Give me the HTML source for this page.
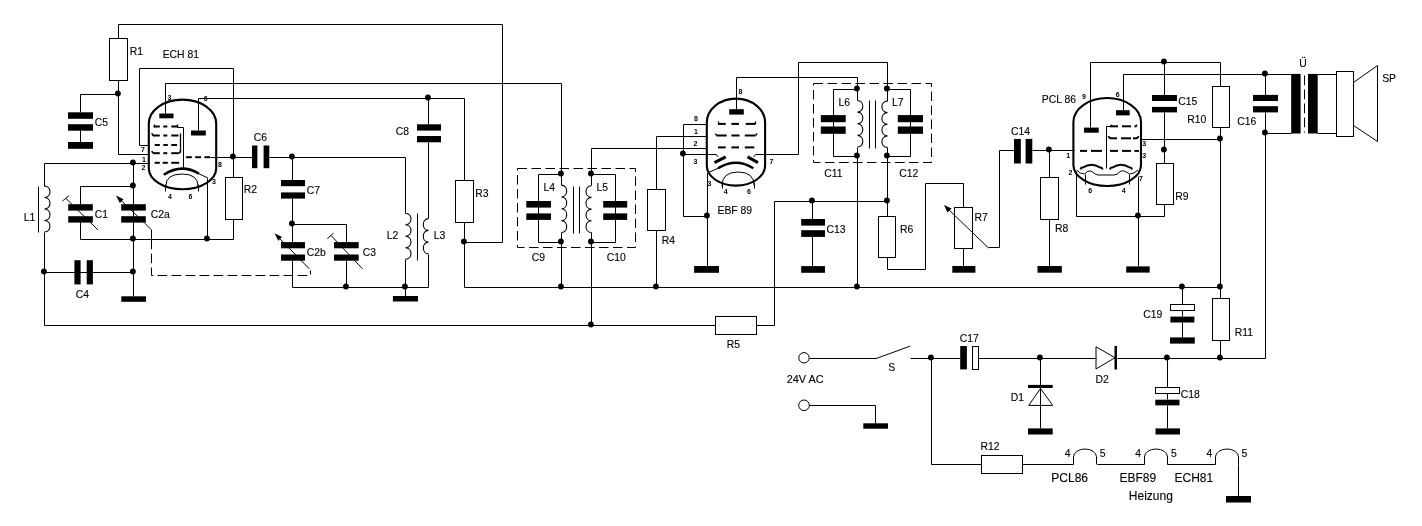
<!DOCTYPE html>
<html><head><meta charset="utf-8"><style>
html,body{margin:0;padding:0;background:#fff;}
svg{display:block;}
svg{will-change:transform;}
path,line,polyline{fill:none;stroke:#000;stroke-width:1;}
.k{fill:#000;stroke:none;}
.o{fill:none;stroke:#000;stroke-width:1;}
.t{font-family:"Liberation Sans",sans-serif;fill:#000;stroke:#000;stroke-width:0.12px;}
.t2{font-family:"Liberation Sans",sans-serif;fill:#000;stroke:#000;stroke-width:0.12px;}
.p{font-family:"Liberation Sans",sans-serif;fill:#000;font-weight:bold;}
</style></head><body>
<svg width="1422" height="526" viewBox="0 0 1422 526">
<path d="M118.5 24.5 L502.5 24.5 L502.5 242.5 L464.5 242.5"/>
<rect x="109.5" y="38.5" width="18" height="42" class="o"/>
<text x="129.7" y="55" class="t" font-size="10.4">R1</text>
<path d="M118.5 24.5 L118.5 38.5"/>
<path d="M118.5 80.5 L118.5 154.5 L149.5 154.5"/>
<circle cx="117.9" cy="93.5" r="2.9" class="k"/>
<path d="M118.5 94.5 L80.5 94.5 L80.5 112.5"/>
<rect x="68" y="112.3" width="25" height="6.5" class="k"/>
<rect x="68" y="124.2" width="25" height="6.5" class="k"/>
<path d="M80.5 130.5 L80.5 142.5"/>
<rect x="68" y="142" width="25" height="6.8" class="k"/>
<text x="94.7" y="126" class="t" font-size="10.4">C5</text>
<text x="162.7" y="58.1" class="t" font-size="10.4">ECH 81</text>
<path d="M149.5 145.5 L139.5 145.5 L139.5 68.5 L233.5 68.5 L233.5 177.5"/>
<path d="M165.5 113.5 L165.5 83.5 L561.5 83.5 L561.5 174.5"/>
<path d="M198.5 130.5 L198.5 98.5 L464.5 98.5 L464.5 180.5"/>
<circle cx="427.9" cy="97.5" r="2.9" class="k"/>
<path d="M428.5 98.5 L428.5 124.5"/>
<rect x="417" y="124.3" width="24" height="6.3" class="k"/>
<rect x="417" y="136" width="24" height="6.3" class="k"/>
<path d="M428.5 142.5 L428.5 218.5"/>
<text x="395.7" y="134.8" class="t" font-size="10.4">C8</text>
<path d="M148.8 123.6 L148.8 168.2 A33.7 21 0 0 0 216.2 168.2 L216.2 123.6 A33.7 24 0 0 0 148.8 123.6 Z" style="stroke-width:2.1"/>
<rect x="159.3" y="113.5" width="14.2" height="4.8" class="k"/>
<rect x="191" y="130.5" width="14.8" height="5" class="k"/>
<path d="M153.6 126.5 L159.8 126.5" style="stroke-width:2"/>
<path d="M163.3 126.5 L167.3 126.5" style="stroke-width:2"/>
<path d="M171.3 126.5 L177.5 126.5" style="stroke-width:2"/>
<path d="M154.5 124.5 L154.5 127.5" style="stroke-width:1.3"/>
<path d="M177.5 124.5 L177.5 127.5" style="stroke-width:1.3"/>
<path d="M177.5 127.5 L183.5 127.5 L183.5 168.5"/>
<path d="M153 135.5 L159.8 135.5" style="stroke-width:2"/>
<path d="M163.3 135.5 L167.3 135.5" style="stroke-width:2"/>
<path d="M171.3 135.5 L178.5 135.5" style="stroke-width:2"/>
<path d="M151.8 133.3 Q152.5 135.5 154 135.5" style="stroke-width:1.6"/>
<path d="M180.5 133.5 L180.5 151.5" style="stroke-width:1.3"/>
<path d="M154.7 145 L159.8 145" style="stroke-width:2"/>
<path d="M163.3 145 L167.8 145" style="stroke-width:2"/>
<path d="M171.3 145 L177 145" style="stroke-width:2"/>
<path d="M153 153.2 L159.8 153.2" style="stroke-width:2"/>
<path d="M163.3 153.2 L167.3 153.2" style="stroke-width:2"/>
<path d="M171.3 153.2 L178.5 153.2" style="stroke-width:2"/>
<path d="M151.8 151 Q152.5 153.2 154 153.2" style="stroke-width:1.6"/>
<path d="M178 153.2 Q180.5 153.2 180.5 150.5" style="stroke-width:1.6"/>
<path d="M154.7 162.8 L159.8 162.8" style="stroke-width:2"/>
<path d="M162.7 162.8 L167.8 162.8" style="stroke-width:2"/>
<path d="M171.3 162.8 L179.2 162.8" style="stroke-width:2"/>
<path d="M186.1 157.2 L191.8 157.2" style="stroke-width:2"/>
<path d="M195.2 157.2 L201 157.2" style="stroke-width:2"/>
<path d="M204.4 157.2 L210.1 157.2" style="stroke-width:2"/>
<path d="M210.5 157.5 L252.5 157.5"/>
<path d="M163.8 174.7 Q182 163 199 173.8" style="stroke-width:2.5"/>
<path d="M199 173.8 L208 178"/>
<path d="M165.8 186 Q166 174 182 174 Q198 174 198 186"/>
<path d="M165.5 184.5 L165.5 191.5"/>
<path d="M198.5 184.5 L198.5 191.5"/>
<text x="170" y="199.1" class="p" font-size="7" text-anchor="middle">4</text>
<text x="190.5" y="199.1" class="p" font-size="7" text-anchor="middle">6</text>
<text x="169.5" y="99.6" class="p" font-size="7" text-anchor="middle">3</text>
<text x="205.8" y="101.2" class="p" font-size="7" text-anchor="middle">6</text>
<text x="143" y="152.1" class="p" font-size="7" text-anchor="middle">7</text>
<text x="144" y="161.6" class="p" font-size="7" text-anchor="middle">1</text>
<text x="143.5" y="169.6" class="p" font-size="7" text-anchor="middle">2</text>
<text x="220" y="167.1" class="p" font-size="7" text-anchor="middle">8</text>
<text x="214" y="184.1" class="p" font-size="7" text-anchor="middle">3</text>
<path d="M44.5 163.5 L149.5 163.5"/>
<circle cx="132.9" cy="162.5" r="2.9" class="k"/>
<path d="M44.5 163.5 L44.5 186.5"/>
<path d="M44.5 186 C51.81 186.23 51.81 197.27 44.5 197.5 C51.81 197.73 51.81 208.77 44.5 209 C51.81 209.23 51.81 220.27 44.5 220.5 C51.81 220.73 51.81 231.77 44.5 232" style="stroke-width:1.1"/>
<path d="M44.5 232.5 L44.5 325.5 L715.5 325.5"/>
<path d="M38.5 186.5 L38.5 232.5"/>
<text x="23.7" y="220.5" class="t" font-size="10.4">L1</text>
<circle cx="43.9" cy="271.5" r="2.9" class="k"/>
<path d="M133.5 163.5 L133.5 296.5"/>
<circle cx="132.9" cy="185.5" r="2.9" class="k"/>
<circle cx="132.9" cy="238.5" r="2.9" class="k"/>
<circle cx="132.9" cy="271.5" r="2.9" class="k"/>
<rect x="121.3" y="296.3" width="24.7" height="5.5" class="k"/>
<path d="M133.5 186.5 L80.5 186.5 L80.5 204.5"/>
<rect x="68.2" y="204.2" width="24.6" height="6.4" class="k"/>
<rect x="68.2" y="216.2" width="24.6" height="6.4" class="k"/>
<path d="M80.5 222.5 L80.5 239.5 L233.5 239.5 L233.5 219.5"/>
<path d="M66 198.5 L98 230"/>
<path d="M62.6 201 L68.9 195.7"/>
<text x="94.7" y="217.7" class="t" font-size="10.4">C1</text>
<rect x="121.2" y="204.2" width="24.6" height="6.4" class="k"/>
<rect x="121.2" y="216.2" width="24.6" height="6.4" class="k"/>
<path d="M118.5 198 L144.4 222.8 L151.5 229.9 L151.5 239.5"/>
<path d="M116 195.5 L123.5 199.2 L119.8 202.9 Z" class="k"/>
<text x="150.8" y="217.7" class="t" font-size="10.4">C2a</text>
<path d="M151.5 239.5 L151.5 275.5 L310.5 275.5 L310.5 270.5" style="stroke-dasharray:9.7 4.3"/>
<circle cx="206.9" cy="238.5" r="2.9" class="k"/>
<path d="M207.5 239.5 L207.5 178.5"/>
<path d="M44.5 272.5 L133.5 272.5"/>
<rect x="74.4" y="260.2" width="6.2" height="24.2" class="k"/>
<rect x="86.7" y="260.2" width="6.2" height="24.2" class="k"/>
<text x="75.7" y="297.8" class="t" font-size="10.4">C4</text>
<rect x="225.5" y="177.5" width="17" height="42" class="o"/>
<circle cx="232.9" cy="156.5" r="2.9" class="k"/>
<text x="243.7" y="193.3" class="t" font-size="10.4">R2</text>
<rect x="252" y="145.5" width="5.4" height="22.7" class="k"/>
<rect x="263.6" y="145.5" width="5.7" height="22.7" class="k"/>
<path d="M269.5 157.5 L405.5 157.5 L405.5 213.5"/>
<text x="253.7" y="141.1" class="t" font-size="10.4">C6</text>
<circle cx="291.9" cy="156.5" r="2.9" class="k"/>
<path d="M292.5 157.5 L292.5 180.5"/>
<rect x="281" y="180" width="24" height="6.2" class="k"/>
<rect x="281" y="192.4" width="24" height="6.2" class="k"/>
<path d="M292.5 198.5 L292.5 242.5"/>
<text x="306.7" y="194.2" class="t" font-size="10.4">C7</text>
<circle cx="291.9" cy="223.5" r="2.9" class="k"/>
<path d="M292.5 224.5 L346.5 224.5 L346.5 242.5"/>
<rect x="281" y="242.1" width="24" height="6.2" class="k"/>
<rect x="281" y="254.5" width="24" height="6.2" class="k"/>
<path d="M277 235.8 L309.3 268.8"/>
<path d="M274.5 233.3 L282 237 L278.3 240.7 Z" class="k"/>
<text x="306.7" y="255.8" class="t" font-size="10.4">C2b</text>
<rect x="334" y="242.1" width="24.7" height="6.2" class="k"/>
<rect x="334" y="254.5" width="24.7" height="6.2" class="k"/>
<path d="M331 235.5 L362.5 268.8"/>
<path d="M327.3 238.5 L333.6 233.2"/>
<text x="362.7" y="255.8" class="t" font-size="10.4">C3</text>
<path d="M292.5 260.5 L292.5 287.5 L428.5 287.5 L428.5 254.5"/>
<path d="M346.5 260.5 L346.5 287.5"/>
<circle cx="345.9" cy="286.5" r="2.9" class="k"/>
<circle cx="404.9" cy="286.5" r="2.9" class="k"/>
<path d="M405.5 259.5 L405.5 296.5"/>
<rect x="392.9" y="296" width="25.1" height="5.5" class="k"/>
<path d="M405.5 213.3 C412.81 213.53 412.81 224.55 405.5 224.78 C412.81 225 412.81 236.02 405.5 236.25 C412.81 236.48 412.81 247.5 405.5 247.72 C412.81 247.95 412.81 258.97 405.5 259.2" style="stroke-width:1.1"/>
<path d="M428.5 218.6 C421.58 218.84 421.58 230.13 428.5 230.37 C421.58 230.6 421.58 241.9 428.5 242.13 C421.58 242.37 421.58 253.66 428.5 253.9" style="stroke-width:1.1"/>
<path d="M417.5 213.5 L417.5 260.5"/>
<text x="386.7" y="239.1" class="t" font-size="10.4">L2</text>
<text x="433.7" y="239.1" class="t" font-size="10.4">L3</text>
<rect x="455.5" y="180.5" width="18" height="42" class="o"/>
<path d="M464.5 222.5 L464.5 287.5 L1220.5 287.5"/>
<circle cx="463.9" cy="241.5" r="2.9" class="k"/>
<text x="475.2" y="196.8" class="t" font-size="10.4">R3</text>
<rect x="517.5" y="168.5" width="118" height="79" class="o" style="stroke-dasharray:9.5 4.5"/>
<path d="M561.5 174.5 L538.5 174.5 L538.5 242.5 L561.5 242.5"/>
<rect x="526.3" y="201" width="24.7" height="6.6" class="k"/>
<rect x="526.3" y="213.4" width="24.7" height="6.5" class="k"/>
<path d="M591.5 174.5 L615.5 174.5 L615.5 242.5 L591.5 242.5"/>
<rect x="603.2" y="201" width="24" height="6.6" class="k"/>
<rect x="603.2" y="213.4" width="24" height="6.5" class="k"/>
<path d="M561.5 174.5 L561.5 185.5"/>
<path d="M561.5 185.1 C568.42 185.34 568.42 196.71 561.5 196.95 C568.42 197.19 568.42 208.56 561.5 208.8 C568.42 209.04 568.42 220.41 561.5 220.65 C568.42 220.89 568.42 232.26 561.5 232.5" style="stroke-width:1.1"/>
<path d="M561.5 232.5 L561.5 287.5"/>
<path d="M591.5 148.5 L591.5 185.5"/>
<path d="M591.5 185.7 C584.18 185.93 584.18 197.17 591.5 197.4 C584.18 197.63 584.18 208.87 591.5 209.1 C584.18 209.33 584.18 220.57 591.5 220.8 C584.18 221.03 584.18 232.27 591.5 232.5" style="stroke-width:1.1"/>
<path d="M591.5 232.5 L591.5 325.5"/>
<path d="M573.5 186.5 L573.5 233.5"/>
<path d="M579.5 186.5 L579.5 233.5"/>
<circle cx="560.9" cy="173.5" r="2.9" class="k"/>
<circle cx="590.9" cy="173.5" r="2.9" class="k"/>
<circle cx="560.9" cy="241.5" r="2.9" class="k"/>
<circle cx="590.9" cy="241.5" r="2.9" class="k"/>
<circle cx="560.9" cy="286.5" r="2.9" class="k"/>
<circle cx="590.9" cy="324.5" r="2.9" class="k"/>
<text x="543.4" y="191.1" class="t" font-size="10.4">L4</text>
<text x="596.4" y="191.1" class="t" font-size="10.4">L5</text>
<text x="531.7" y="261.4" class="t" font-size="10.4">C9</text>
<text x="606.7" y="261.4" class="t" font-size="10.4">C10</text>
<path d="M591.5 148.5 L707.5 148.5"/>
<path d="M656.5 136.5 L707.5 136.5"/>
<path d="M656.5 136.5 L656.5 189.5"/>
<rect x="647.5" y="189.5" width="18" height="41" class="o"/>
<path d="M656.5 230.5 L656.5 287.5"/>
<circle cx="655.9" cy="286.5" r="2.9" class="k"/>
<text x="661.7" y="244.2" class="t" font-size="10.4">R4</text>
<path d="M707.5 124.5 L683.5 124.5 L683.5 216.5 L707.5 216.5"/>
<circle cx="682.9" cy="153.5" r="2.9" class="k"/>
<path d="M683.5 154.5 L716.5 154.5"/>
<path d="M716 154.5 L718.3 157"/>
<path d="M707.5 173.5 L707.5 266.5"/>
<circle cx="706.9" cy="215.5" r="2.9" class="k"/>
<rect x="694.1" y="266" width="24.9" height="6.8" class="k"/>
<text x="717.5" y="214.2" class="t" font-size="10.4">EBF 89</text>
<path d="M706.8 122.6 L706.8 165.6 A29.15 20 0 0 0 765.1 165.6 L765.1 122.6 A29.15 24 0 0 0 706.8 122.6 Z" style="stroke-width:2.1"/>
<rect x="729.2" y="109.2" width="14.6" height="5.4" class="k"/>
<path d="M736.5 109.5 L736.5 77.5 L857.5 77.5 L857.5 87.5"/>
<path d="M718 123.9 L725.7 123.9" style="stroke-width:2"/>
<path d="M731.4 123.9 L739 123.9" style="stroke-width:2"/>
<path d="M745.7 123.9 L755.2 123.9" style="stroke-width:2"/>
<path d="M718.5 121.5 L718.5 124.5" style="stroke-width:1.3"/>
<path d="M755.5 121.5 L755.5 124.5" style="stroke-width:1.3"/>
<path d="M716.5 135.5 L726.7 135.5" style="stroke-width:2"/>
<path d="M731.4 135.5 L739.5 135.5" style="stroke-width:2"/>
<path d="M744.8 135.5 L755.5 135.5" style="stroke-width:2"/>
<path d="M715.2 133.8 L716.8 135.5" style="stroke-width:1.3"/>
<path d="M755.5 135.5 L757.2 133.5" style="stroke-width:1.3"/>
<path d="M718 147.4 L725.7 147.4" style="stroke-width:2"/>
<path d="M731.4 147.4 L739 147.4" style="stroke-width:2"/>
<path d="M744.8 147.4 L754.3 147.4" style="stroke-width:2"/>
<path d="M714.5 162.6 L725.7 156.9" style="stroke-width:3"/>
<path d="M747.6 156.9 L758 162.6" style="stroke-width:3"/>
<path d="M718 168.3 Q736 157 753.3 168.3" style="stroke-width:2.5"/>
<path d="M718 168.3 L707.5 173"/>
<path d="M722 186 Q722 172 738 172 Q754.3 172 754.3 186"/>
<path d="M722.5 182.5 L722.5 188.5"/>
<path d="M754.5 182.5 L754.5 188.5"/>
<path d="M755.5 154.5 L753.8 156.9"/>
<path d="M755.5 154.5 L798.5 154.5 L798.5 62.5 L887.5 62.5 L887.5 87.5"/>
<text x="740.5" y="93.6" class="p" font-size="7" text-anchor="middle">8</text>
<text x="696" y="120.6" class="p" font-size="7" text-anchor="middle">8</text>
<text x="696" y="133.6" class="p" font-size="7" text-anchor="middle">1</text>
<text x="695.5" y="145.9" class="p" font-size="7" text-anchor="middle">2</text>
<text x="695.5" y="164.1" class="p" font-size="7" text-anchor="middle">3</text>
<text x="771.5" y="164.1" class="p" font-size="7" text-anchor="middle">7</text>
<text x="709.5" y="186.2" class="p" font-size="7" text-anchor="middle">3</text>
<text x="725.6" y="193.6" class="p" font-size="7" text-anchor="middle">4</text>
<text x="749" y="193.6" class="p" font-size="7" text-anchor="middle">6</text>
<rect x="813.5" y="83.5" width="118" height="79" class="o" style="stroke-dasharray:9.5 4.5"/>
<path d="M857.5 89.5 L833.5 89.5 L833.5 156.5 L857.5 156.5"/>
<rect x="820.8" y="115.1" width="24.9" height="7.1" class="k"/>
<rect x="820.8" y="126.5" width="24.9" height="7.3" class="k"/>
<path d="M887.5 89.5 L910.5 89.5 L910.5 156.5 L887.5 156.5"/>
<rect x="897.8" y="115.1" width="25.2" height="7.1" class="k"/>
<rect x="897.8" y="126.5" width="25.2" height="7.3" class="k"/>
<path d="M857.5 100.5 C864.55 100.73 864.55 111.89 857.5 112.12 C864.55 112.36 864.55 123.52 857.5 123.75 C864.55 123.98 864.55 135.14 857.5 135.38 C864.55 135.61 864.55 146.77 857.5 147" style="stroke-width:1.1"/>
<path d="M857.5 89.5 L857.5 100.5"/>
<path d="M857.5 147.5 L857.5 287.5"/>
<path d="M887.5 101 C880.05 101.23 880.05 112.39 887.5 112.62 C880.05 112.86 880.05 124.02 887.5 124.25 C880.05 124.48 880.05 135.64 887.5 135.88 C880.05 136.11 880.05 147.27 887.5 147.5" style="stroke-width:1.1"/>
<path d="M887.5 89.5 L887.5 101.5"/>
<path d="M887.5 147.5 L887.5 216.5"/>
<path d="M869.5 100.5 L869.5 148.5"/>
<path d="M875.5 100.5 L875.5 148.5"/>
<circle cx="856.9" cy="88.5" r="2.9" class="k"/>
<circle cx="886.9" cy="88.5" r="2.9" class="k"/>
<circle cx="856.9" cy="155.5" r="2.9" class="k"/>
<circle cx="886.9" cy="155.5" r="2.9" class="k"/>
<circle cx="856.9" cy="286.5" r="2.9" class="k"/>
<circle cx="811.9" cy="200.5" r="2.9" class="k"/>
<circle cx="886.9" cy="200.5" r="2.9" class="k"/>
<text x="838.5" y="106.1" class="t" font-size="10.4">L6</text>
<text x="892" y="106.1" class="t" font-size="10.4">L7</text>
<text x="824.2" y="176.9" class="t" font-size="10.4">C11</text>
<text x="899.3" y="176.9" class="t" font-size="10.4">C12</text>
<rect x="715.5" y="316.5" width="41" height="18" class="o"/>
<path d="M756.5 325.5 L774.5 325.5 L774.5 201.5 L887.5 201.5"/>
<text x="726.8" y="347.7" class="t" font-size="10.4">R5</text>
<path d="M812.5 201.5 L812.5 219.5"/>
<rect x="801.2" y="219" width="23.8" height="6.6" class="k"/>
<rect x="801.2" y="230.2" width="23.8" height="6.7" class="k"/>
<path d="M812.5 236.5 L812.5 266.5"/>
<rect x="801.2" y="266.1" width="23.8" height="6.7" class="k"/>
<text x="826.5" y="232.5" class="t" font-size="10.4">C13</text>
<rect x="878.5" y="216.5" width="17" height="41" class="o"/>
<path d="M887.5 257.5 L887.5 269.5 L925.5 269.5 L925.5 183.5 L963.5 183.5 L963.5 207.5"/>
<text x="900" y="232.5" class="t" font-size="10.4">R6</text>
<rect x="954.5" y="207.5" width="18" height="41" class="o"/>
<path d="M963.5 248.5 L963.5 266.5"/>
<rect x="952.3" y="266" width="23.1" height="6.7" class="k"/>
<path d="M947 208 L988.5 248"/>
<path d="M988.5 247.5 L999.5 247.5 L999.5 150.5 L1014.5 150.5"/>
<path d="M944 205 L951.5 208.5 L947.5 212.5 Z" class="k"/>
<text x="974.5" y="221.2" class="t" font-size="10.4">R7</text>
<rect x="1014" y="138.9" width="6.8" height="24.6" class="k"/>
<rect x="1025.6" y="138.9" width="6.7" height="24.6" class="k"/>
<text x="1011" y="135.4" class="t" font-size="10.4">C14</text>
<path d="M1032.5 150.5 L1074.5 150.5"/>
<circle cx="1048.9" cy="149.5" r="2.9" class="k"/>
<path d="M1049.5 150.5 L1049.5 177.5"/>
<rect x="1040.5" y="177.5" width="18" height="42" class="o"/>
<path d="M1049.5 219.5 L1049.5 266.5"/>
<rect x="1037.5" y="266" width="24.3" height="6.7" class="k"/>
<text x="1055" y="232.4" class="t" font-size="10.4">R8</text>
<path d="M1073.4 122 L1073.4 165 A33.8 21 0 0 0 1141 165 L1141 122 A33.8 24 0 0 0 1073.4 122 Z" style="stroke-width:2.1"/>
<rect x="1084" y="127.6" width="14.7" height="5.1" class="k"/>
<rect x="1116" y="110.2" width="13.7" height="5.2" class="k"/>
<path d="M1090.5 127.5 L1090.5 62.5 L1220.5 62.5 L1220.5 86.5"/>
<path d="M1123.5 110.5 L1123.5 74.5 L1291.5 74.5"/>
<circle cx="1163.9" cy="61.5" r="2.9" class="k"/>
<path d="M1164.5 62.5 L1164.5 95.5"/>
<rect x="1152" y="95" width="25" height="6" class="k"/>
<rect x="1152" y="106.9" width="25" height="5.5" class="k"/>
<path d="M1164.5 112.5 L1164.5 163.5"/>
<circle cx="1163.9" cy="149.5" r="2.9" class="k"/>
<path d="M1080 150.9 L1087 150.9" style="stroke-width:2"/>
<path d="M1091 150.9 L1102 150.9" style="stroke-width:2"/>
<path d="M1110 150.9 L1118 150.9" style="stroke-width:2"/>
<path d="M1122 150.9 L1131 150.9" style="stroke-width:2"/>
<path d="M1134.5 150.9 L1139 150.9" style="stroke-width:2"/>
<path d="M1110 126.3 L1118 126.3" style="stroke-width:2"/>
<path d="M1122 126.3 L1131 126.3" style="stroke-width:2"/>
<path d="M1134.5 126.3 L1136.5 126.3" style="stroke-width:2"/>
<path d="M1111.5 124.5 L1111.5 126.5" style="stroke-width:1.3"/>
<path d="M1136.5 124.5 L1136.5 126.5" style="stroke-width:1.3"/>
<path d="M1110 138.3 L1117 138.3" style="stroke-width:2"/>
<path d="M1121 138.3 L1131 138.3" style="stroke-width:2"/>
<path d="M1133 138.3 L1137 138.3" style="stroke-width:2"/>
<path d="M1108.5 136 Q1109 138.3 1111 138.3" style="stroke-width:1.6"/>
<path d="M1136 138.3 Q1138 138.3 1138.5 136" style="stroke-width:1.6"/>
<path d="M1141.5 139.5 L1220.5 139.5"/>
<circle cx="1219.9" cy="138.5" r="2.9" class="k"/>
<path d="M1106.5 126.5 L1106.5 168.5"/>
<path d="M1106.5 126.5 L1110.5 126.5"/>
<path d="M1080.5 169.5 Q1081 167 1083 167.5 Q1091.5 162 1100 167.5 Q1102 167 1102.5 169.5" style="stroke-width:2"/>
<path d="M1110 169.5 Q1110.5 167 1112.5 167.5 Q1121 162 1129.5 167.5 Q1131.5 167 1132 169.5" style="stroke-width:2"/>
<path d="M1076.5 170 Q1080 174 1084.5 174 Q1088 170 1091 171 Q1096 175 1098 175 L1114 175 Q1117 175 1121 171 Q1124 170 1129.5 174 Q1134 174 1138 170"/>
<path d="M1085.5 174.5 L1085.5 184.5"/>
<path d="M1129.5 174.5 L1129.5 184.5"/>
<rect x="1156.5" y="163.5" width="17" height="41" class="o"/>
<path d="M1164.5 204.5 L1164.5 216.5 L1076.5 216.5 L1076.5 171.5"/>
<path d="M1138.5 176.5 L1138.5 266.5"/>
<circle cx="1137.9" cy="215.5" r="2.9" class="k"/>
<rect x="1126.2" y="266.4" width="23.5" height="6.2" class="k"/>
<text x="1175.2" y="199.8" class="t" font-size="10.4">R9</text>
<rect x="1212.5" y="86.5" width="17" height="41" class="o"/>
<path d="M1220.5 127.5 L1220.5 298.5"/>
<text x="1187.2" y="123" class="t" font-size="10.4">R10</text>
<text x="1178.2" y="105.4" class="t" font-size="10.4">C15</text>
<text x="1041.8" y="102.6" class="t" font-size="10.4">PCL 86</text>
<text x="1084" y="98.8" class="p" font-size="7" text-anchor="middle">9</text>
<text x="1117.6" y="96.7" class="p" font-size="7" text-anchor="middle">6</text>
<text x="1068.2" y="158.4" class="p" font-size="7" text-anchor="middle">1</text>
<text x="1070.4" y="175.4" class="p" font-size="7" text-anchor="middle">2</text>
<text x="1090.3" y="193.4" class="p" font-size="7" text-anchor="middle">6</text>
<text x="1123.6" y="193.4" class="p" font-size="7" text-anchor="middle">4</text>
<text x="1141" y="181.1" class="p" font-size="7" text-anchor="middle">7</text>
<text x="1144.3" y="145.9" class="p" font-size="7" text-anchor="middle">3</text>
<text x="1144.3" y="158.4" class="p" font-size="7" text-anchor="middle">3</text>
<circle cx="1264.9" cy="73.5" r="2.9" class="k"/>
<path d="M1265.5 74.5 L1265.5 95.5"/>
<rect x="1253" y="94.9" width="25" height="6.1" class="k"/>
<rect x="1253" y="106.2" width="25" height="6.2" class="k"/>
<path d="M1265.5 112.5 L1265.5 358.5 L1220.5 358.5"/>
<circle cx="1264.9" cy="132.5" r="2.9" class="k"/>
<path d="M1265.5 133.5 L1291.5 133.5"/>
<text x="1237.2" y="125.4" class="t" font-size="10.4">C16</text>
<rect x="1291.2" y="73.9" width="9.4" height="59.6" class="k"/>
<rect x="1308" y="73.9" width="9.7" height="59.6" class="k"/>
<path d="M1304.5 75.5 L1304.5 132.5" style="stroke-dasharray:9.7 4.3"/>
<path d="M1317.5 74.5 L1336.5 74.5"/>
<path d="M1317.5 133.5 L1336.5 133.5"/>
<rect x="1336.5" y="71.5" width="17" height="65" class="o"/>
<path d="M1353.5 82.5 L1377.5 65.5 L1377.5 141.5 L1353.5 125.5"/>
<text x="1382.2" y="82.1" class="t" font-size="10.4">SP</text>
<text x="1299.2" y="66.6" class="t" font-size="10.4">U</text>
<rect x="1302" y="56.8" width="1.2" height="1.2" class="k"/>
<rect x="1304" y="56.8" width="1.2" height="1.2" class="k"/>
<circle cx="1181.9" cy="286.5" r="2.9" class="k"/>
<circle cx="1219.9" cy="286.5" r="2.9" class="k"/>
<rect x="1212.5" y="298.5" width="17" height="42" class="o"/>
<path d="M1220.5 340.5 L1220.5 358.5"/>
<circle cx="1219.9" cy="357.5" r="2.9" class="k"/>
<text x="1234.7" y="335.7" class="t" font-size="10.4">R11</text>
<path d="M1182.5 287.5 L1182.5 304.5"/>
<rect x="1170.5" y="304.5" width="24" height="6" class="o"/>
<rect x="1170.4" y="316.6" width="24" height="5.9" class="k"/>
<path d="M1182.5 310.5 L1182.5 316.5"/>
<path d="M1182.5 322.5 L1182.5 337.5"/>
<rect x="1170" y="337.4" width="24.8" height="6.2" class="k"/>
<text x="1143.2" y="317.9" class="t" font-size="10.4">C19</text>
<circle cx="804" cy="357.8" r="5.2" class="o"/>
<circle cx="804" cy="405.3" r="5.3" class="o"/>
<path d="M809.5 358.5 L876.5 358.5"/>
<path d="M876.2 358.5 L910 346.2"/>
<path d="M910.5 358.5 L960.5 358.5"/>
<circle cx="930.9" cy="357.5" r="2.9" class="k"/>
<text x="888.2" y="371.3" class="t" font-size="10.4">S</text>
<text x="786.7" y="383.1" class="t" font-size="10.9">24V AC</text>
<path d="M809.5 405.5 L875.5 405.5 L875.5 423.5"/>
<rect x="863.3" y="423.3" width="24.7" height="5.4" class="k"/>
<rect x="960.2" y="346" width="6.7" height="23.4" class="k"/>
<rect x="972.5" y="346.5" width="6" height="23" class="o"/>
<text x="959.7" y="341.6" class="t" font-size="10.4">C17</text>
<path d="M978.5 358.5 L1096.5 358.5"/>
<circle cx="1039.9" cy="357.5" r="2.9" class="k"/>
<path d="M1040.5 358.5 L1040.5 428.5"/>
<rect x="1028" y="384.9" width="24.7" height="3.1" class="k"/>
<path d="M1040.5 388.5 L1028.7 405.4 L1052.7 405.4 Z" class="o"/>
<rect x="1028" y="428.4" width="24.7" height="6.1" class="k"/>
<text x="1010.7" y="401" class="t" font-size="10.4">D1</text>
<path d="M1096 346.8 L1096 369 L1115 357.7 Z" class="o"/>
<rect x="1114.5" y="346" width="2.5" height="23.5" class="k"/>
<path d="M1117.5 358.5 L1220.5 358.5"/>
<circle cx="1166.9" cy="357.5" r="2.9" class="k"/>
<text x="1095.4" y="383.2" class="t" font-size="10.4">D2</text>
<path d="M1167.5 358.5 L1167.5 387.5"/>
<rect x="1155.5" y="387.5" width="24" height="6" class="o"/>
<rect x="1155.3" y="399.7" width="24.2" height="5.7" class="k"/>
<path d="M1167.5 393.5 L1167.5 399.5"/>
<path d="M1167.5 405.5 L1167.5 428.5"/>
<rect x="1155.5" y="428.4" width="24.5" height="6.1" class="k"/>
<text x="1180.7" y="398.1" class="t" font-size="10.4">C18</text>
<path d="M931.5 358.5 L931.5 464.5 L981.5 464.5"/>
<rect x="981.5" y="455.5" width="41" height="18" class="o"/>
<text x="980.5" y="450.1" class="t" font-size="10.4">R12</text>
<path d="M1022.5 464.5 L1073.5 464.5"/>
<path d="M1073.5 464.5 L1073.5 457 A11.5 8 0 0 1 1096.5 457 L1096.5 464.5"/>
<path d="M1097.5 464.5 L1144.5 464.5"/>
<path d="M1144.5 464.5 L1144.5 457 A11.5 8 0 0 1 1167.5 457 L1167.5 464.5"/>
<path d="M1167.5 464.5 L1215.5 464.5"/>
<path d="M1215.5 464.5 L1215.5 457 A11.5 8 0 0 1 1238.5 457 L1238.5 464.5"/>
<path d="M1238.5 464.5 L1238.5 496.5"/>
<rect x="1226" y="496" width="25" height="6.5" class="k"/>
<text x="1064.7" y="457.2" class="t" font-size="10.4">4</text>
<text x="1099.8" y="457.2" class="t" font-size="10.4">5</text>
<text x="1135.2" y="457.2" class="t" font-size="10.4">4</text>
<text x="1171" y="457.2" class="t" font-size="10.4">5</text>
<text x="1206.5" y="457.2" class="t" font-size="10.4">4</text>
<text x="1241.6" y="457.2" class="t" font-size="10.4">5</text>
<text x="1051.3" y="481.7" class="t2" font-size="12">PCL86</text>
<text x="1119.5" y="481.7" class="t2" font-size="12">EBF89</text>
<text x="1174.5" y="481.7" class="t2" font-size="12">ECH81</text>
<text x="1128.8" y="500.3" class="t2" font-size="12">Heizung</text>
</svg>
</body></html>
